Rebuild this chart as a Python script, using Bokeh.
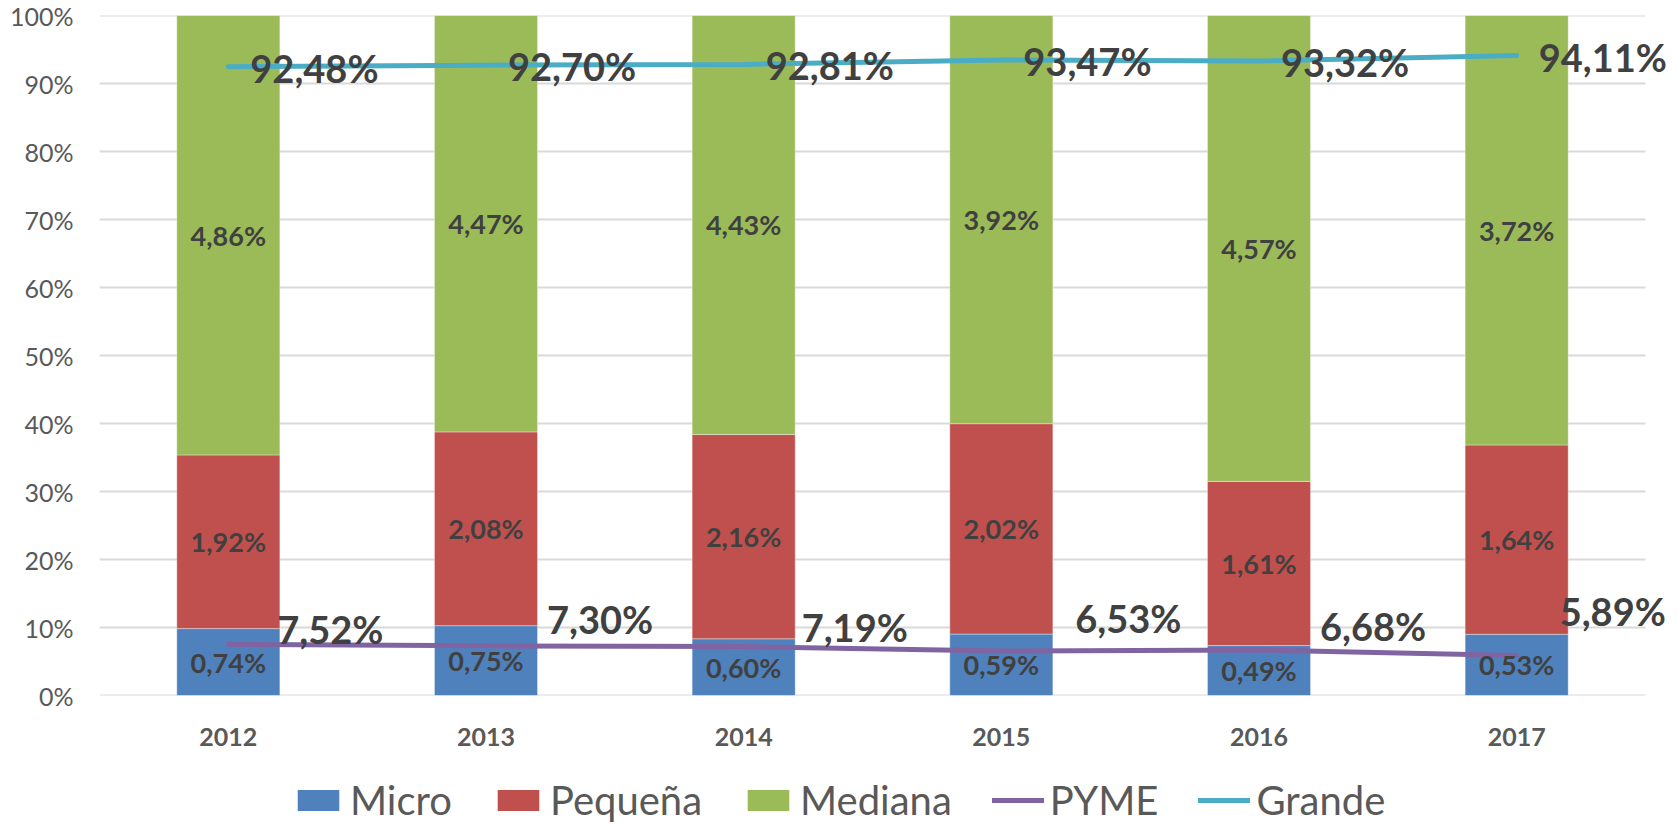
from bokeh.plotting import figure
from bokeh.layouts import column
from bokeh.models import (ColumnDataSource, Range1d, FixedTicker,
                          PrintfTickFormatter, Legend, LegendItem)
from bokeh.core.properties import value
from bokeh.embed import file_html
from bokeh.resources import INLINE

# ---------------- data ----------------
years = ["2012", "2013", "2014", "2015", "2016", "2017"]
micro = [0.74, 0.75, 0.60, 0.59, 0.49, 0.53]
pequena = [1.92, 2.08, 2.16, 2.02, 1.61, 1.64]
mediana = [4.86, 4.47, 4.43, 3.92, 4.57, 3.72]
pyme = [7.52, 7.30, 7.19, 6.53, 6.68, 5.89]
grande = [92.48, 92.70, 92.81, 93.47, 93.32, 94.11]
y_ticks = [0, 10, 20, 30, 40, 50, 60, 70, 80, 90, 100]
series_names = ["Micro", "Pequeña", "Mediana", "PYME", "Grande"]

# label placement (screen pixel offsets, manually placed in the original)
pyme_dx = [49, 61, 58, 74, 61, 43]
pyme_dy = [-15, -27, -20, -33, -24, -44]

# ---------------- styles ----------------
FONT = "Lato"
C_MICRO = "#4F81BD"
C_PEQ = "#C0504D"
C_MED = "#9BBB59"
C_PYME = "#8064A2"
C_GRANDE = "#4BACC6"
TXT = "#404040"
AX = "#595959"
GRID = "#D9D9D9"


def fmt(v):
    return f"{v:.2f}".replace(".", ",") + "%"


# category slots: one unit per year, centred at i + 0.5
n = len(years)
xpos = [i + 0.5 for i in range(n)]

# 100 % stacked shares of the three SME segments
tot = [a + b + c for a, b, c in zip(micro, pequena, mediana)]
micro_s = [a / t * 100 for a, t in zip(micro, tot)]
peq_s = [b / t * 100 for b, t in zip(pequena, tot)]
med_s = [c / t * 100 for c, t in zip(mediana, tot)]

src = ColumnDataSource(dict(
    x=xpos,
    micro_s=micro_s, peq_s=peq_s, med_s=med_s,
    micro_y=[m / 2 for m in micro_s],
    peq_y=[m + p / 2 for m, p in zip(micro_s, peq_s)],
    med_y=[m + p + d / 2 for m, p, d in zip(micro_s, peq_s, med_s)],
    micro_t=[fmt(v) for v in micro],
    peq_t=[fmt(v) for v in pequena],
    med_t=[fmt(v) for v in mediana],
    pyme=pyme, grande=grande,
    pyme_t=[fmt(v) for v in pyme],
    grande_t=[fmt(v) for v in grande],
    pyme_dx=pyme_dx, pyme_dy=pyme_dy,
))

W = 1678
H_MAIN, H_LEG = 765, 60
LEFT = 99
PLOT_W = 1546            # width of the category area in px
x_end = n * (W - LEFT) / PLOT_W   # frame runs to the right edge so labels are not clipped

p = figure(width=W, height=H_MAIN, x_range=Range1d(0, x_end), y_range=Range1d(0, 100),
           output_backend="svg", toolbar_location=None,
           min_border_left=LEFT, min_border_right=0, min_border_top=15,
           min_border_bottom=70)
p.outline_line_color = None
p.xgrid.grid_line_color = None
p.ygrid.grid_line_color = None

# horizontal gridlines spanning only the category area
grid_src = ColumnDataSource(dict(y=y_ticks, x0=[0] * len(y_ticks), x1=[n] * len(y_ticks)))
p.segment(x0="x0", x1="x1", y0="y", y1="y", line_color=GRID, line_width=2,
          source=grid_src, level="underlay")

p.yaxis.ticker = FixedTicker(ticks=y_ticks)
p.yaxis.formatter = PrintfTickFormatter(format="%d%%")
p.yaxis.axis_line_color = None
p.yaxis.major_tick_line_color = None
p.yaxis.minor_tick_line_color = None
p.yaxis.major_label_text_font = FONT
p.yaxis.major_label_text_font_size = "25px"
p.yaxis.major_label_text_color = AX
p.yaxis.major_label_standoff = 20

p.xaxis.ticker = FixedTicker(ticks=xpos)
p.xaxis.major_label_overrides = {x: y for x, y in zip(xpos, years)}
p.xaxis.axis_line_color = None
p.xaxis.major_tick_line_color = None
p.xaxis.minor_tick_line_color = None
p.xaxis.major_label_text_font = FONT
p.xaxis.major_label_text_font_size = "25px"
p.xaxis.major_label_text_font_style = "bold"
p.xaxis.major_label_text_color = AX
p.xaxis.major_label_standoff = 26

bars = p.vbar_stack(["micro_s", "peq_s", "med_s"], x="x", width=0.4,
                    color=[C_MICRO, C_PEQ, C_MED], line_color="white",
                    line_width=0.6, line_alpha=0.6, source=src)

l_pyme = p.line(x="x", y="pyme", line_width=5, line_color=C_PYME,
                line_cap="round", source=src)
l_grande = p.line(x="x", y="grande", line_width=5, line_color=C_GRANDE,
                  line_cap="round", source=src)

for ycol, tcol in (("micro_y", "micro_t"), ("peq_y", "peq_t"), ("med_y", "med_t")):
    p.text(x="x", y=ycol, text=tcol, source=src, text_align="center",
           text_baseline="middle", text_font=value(FONT), text_font_size="27px",
           text_font_style="bold", text_color=TXT)

p.text(x="x", y="grande", text="grande_t", source=src, x_offset=22, y_offset=1,
       text_align="left", text_baseline="middle", text_font=value(FONT),
       text_font_size="38px", text_font_style="bold", text_color=TXT)
p.text(x="x", y="pyme", text="pyme_t", source=src, x_offset="pyme_dx",
       y_offset="pyme_dy", text_align="left", text_baseline="middle",
       text_font=value(FONT), text_font_size="38px", text_font_style="bold",
       text_color=TXT)

# ---------------- legend strip (separate figure below) ----------------
lf = figure(width=W, height=H_LEG, x_range=Range1d(0, 1), y_range=Range1d(0, 1),
            output_backend="svg", toolbar_location=None,
            min_border_left=0, min_border_right=0, min_border_top=0,
            min_border_bottom=0)
lf.axis.visible = False
lf.grid.visible = False
lf.outline_line_color = None
# zero-size proxies: only used to draw the legend swatches
proxy = ColumnDataSource(dict(x=[0.5], y=[0.5]))
g_micro = lf.rect(x="x", y="y", width=0, height=0, fill_color=C_MICRO, line_alpha=0, source=proxy)
g_peq = lf.rect(x="x", y="y", width=0, height=0, fill_color=C_PEQ, line_alpha=0, source=proxy)
g_med = lf.rect(x="x", y="y", width=0, height=0, fill_color=C_MED, line_alpha=0, source=proxy)
g_pyme = lf.line(x="x", y="y", line_width=5, line_color=C_PYME, line_cap="round", source=proxy)
g_grande = lf.line(x="x", y="y", line_width=5, line_color=C_GRANDE, line_cap="round", source=proxy)

legend = Legend(items=[
    LegendItem(label=nm, renderers=[r])
    for nm, r in zip(series_names, [g_micro, g_peq, g_med, g_pyme, g_grande])
], orientation="horizontal", location=(193, 1))
legend.glyph_width = 52
legend.glyph_height = 26
legend.label_standoff = 6
legend.spacing = 40
legend.padding = 0
legend.margin = 0
legend.border_line_alpha = 0
legend.background_fill_alpha = 0
legend.label_text_font = FONT
legend.label_text_font_size = "40px"
legend.label_text_color = AX
lf.add_layout(legend, "center")

layout = column(p, lf, spacing=0)
open("out.html", "w").write(file_html(layout, INLINE))
